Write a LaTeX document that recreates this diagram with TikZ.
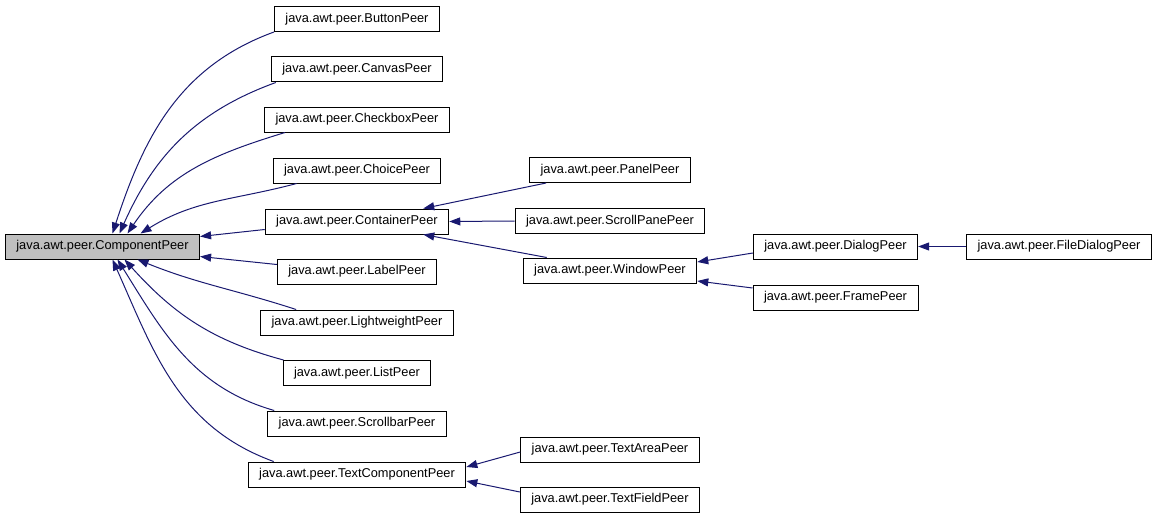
\documentclass[tikz,border=0pt]{standalone}
\usepackage{fontspec}
\setmainfont{Liberation Sans}
\usetikzlibrary{arrows.meta}
\definecolor{edgeblue}{RGB}{25,25,112}
\definecolor{hlgray}{RGB}{191,191,191}
\begin{document}
\begin{tikzpicture}[x=1pt,y=-1pt,font=\fontsize{12.8}{14}\selectfont,
  cls/.style={draw=black,line width=1pt,fill=white,minimum height=25pt,inner xsep=11pt,inner ysep=0pt},
  edge/.style={draw=edgeblue,line width=1pt,-{Triangle[length=11pt,width=8pt]}}]
\useasboundingbox (0,0) rectangle (1157,519);
% base class
\node[cls,fill=hlgray] (comp) at (102.5,246.5) {java.awt.peer.ComponentPeer};
% direct subclasses
\foreach \n/\y/\t in {button/19/ButtonPeer,canvas/69.5/CanvasPeer,checkbox/119.5/CheckboxPeer,
  choice/170.5/ChoicePeer,container/221.5/ContainerPeer,label/271.5/LabelPeer,
  lightweight/322.5/LightweightPeer,list/373/ListPeer,scrollbar/423.5/ScrollbarPeer,
  textcomp/474.5/TextComponentPeer}
  \node[cls] (\n) at (357,\y) {java.awt.peer.\t};
% further levels
\node[cls] (panel) at (610,170) {java.awt.peer.PanelPeer};
\node[cls] (scrollpane) at (610,221) {java.awt.peer.ScrollPanePeer};
\node[cls] (window) at (610,270.5) {java.awt.peer.WindowPeer};
\node[cls] (dialog) at (835.5,246.5) {java.awt.peer.DialogPeer};
\node[cls] (frame) at (835.5,297.5) {java.awt.peer.FramePeer};
\node[cls] (filedialog) at (1059,246.5) {java.awt.peer.FileDialogPeer};
\node[cls] (textarea) at (610,449.5) {java.awt.peer.TextAreaPeer};
\node[cls] (textfield) at (610,499.5) {java.awt.peer.TextFieldPeer};
% edges into the top of ComponentPeer
\foreach \n/\s/\t/\o/\i in {button/0/10/200/72,canvas/5/17/200/66,checkbox/21/25/197/56,choice/24/38/195/32}
  \draw[edge] ([xshift=\s pt]\n.south west) to[out=\o,in=\i] ([xshift=\t pt]comp.north);
% edges into the bottom of ComponentPeer
\foreach \n/\s/\t/\o/\i in {lightweight/36/35/162/-22,list/1/22/165/-48,scrollbar/7/15/164/-58,textcomp/26/10/160/-66}
  \draw[edge] ([xshift=\s pt]\n.north west) to[out=\o,in=\i] ([xshift=\t pt]comp.south);
\draw[edge] ([yshift=-8pt]container.west) -- ([yshift=10pt]comp.east);
\draw[edge] ([yshift=7pt]label.west) -- ([yshift=-10pt]comp.east);
% container subtree
\draw[edge] ([xshift=17pt]panel.south west) -- ([xshift=-26pt]container.north east);
\draw[edge] (scrollpane.west) -- (container.east);
\draw[edge] ([xshift=24pt]window.north west) -- ([xshift=-26pt]container.south east);
\draw[edge] ([yshift=-6.5pt]dialog.west) -- ([yshift=8.5pt]window.east);
\draw[edge] ([yshift=9.5pt]frame.west) -- ([yshift=-10.5pt]window.east);
\draw[edge] (filedialog.west) -- (dialog.east);
% text components
\draw[edge] ([yshift=-2.5pt]textarea.west) -- ([yshift=7.5pt]textcomp.east);
\draw[edge] ([yshift=7.5pt]textfield.west) -- ([yshift=-6.5pt]textcomp.east);
\end{tikzpicture}
\end{document}
